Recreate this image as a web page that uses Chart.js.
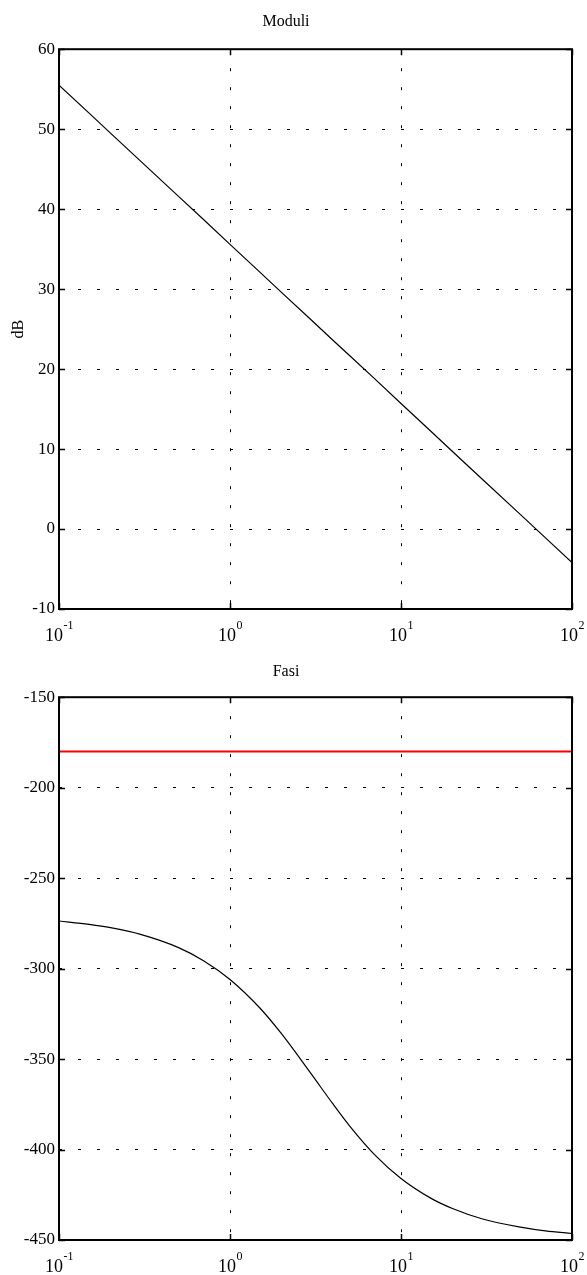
<!DOCTYPE html>
<html>
<head>
<meta charset="utf-8">
<script src="https://cdn.jsdelivr.net/npm/chart.js@4/dist/chart.umd.min.js"></script>
<style>
  body { margin: 0; background: #fff; width: 587px; height: 1275px; position: relative; overflow: hidden; }
  .box { position: absolute; left: 0; width: 587px; }
</style>
</head>
<body>
<div class="box" style="top:0;height:645px"><canvas id="modChart"></canvas></div>
<div class="box" style="top:645px;height:630px"><canvas id="phaseChart"></canvas></div>
<script>
let freqs = [0.1, 0.15, 0.2, 0.3, 0.5, 0.7, 1, 1.5, 2, 3, 4, 5, 7, 10, 15, 20, 30, 50, 70, 100];
let moduli = [55.5, 52.0, 49.5, 46.0, 41.6, 38.7, 35.6, 32.1, 29.6, 26.1, 23.6, 21.7, 18.8, 15.7, 12.2, 9.7, 6.2, 1.8, -1.1, -4.2];
let fasi = [-273.7, -275.6, -277.4, -281.1, -288.4, -295.6, -306.0, -321.9, -336.0, -358.5, -374.8, -386.9, -402.8, -416.0, -427.0, -432.6, -438.4, -442.9, -445.0, -446.4];

// red reference line
let refFreqs = [0.1, 100];
let refFase = [-180, -180];

let xTicks = [0.1, 1, 10, 100];
let fontFam = '"Liberation Serif", "Times New Roman", serif';

function toPoints(xs, ys){
  return xs.map(function(v, i){ return {x: v, y: ys[i]}; });
}

// box, inward ticks and 10^n labels like the matlab axes
let matlabAxes = {
  id: 'matlabAxes',
  afterDraw: function(chart){
    let ctx = chart.ctx;
    let a = chart.chartArea;
    let xs = chart.scales.x;
    let ys = chart.scales.y;
    ctx.save();
    ctx.strokeStyle = '#000';
    ctx.lineWidth = 1.5;
    ctx.beginPath();
    xs.ticks.forEach(function(t){
      let px = Math.round(xs.getPixelForValue(t.value)) + 0.5;
      ctx.moveTo(px, a.bottom); ctx.lineTo(px, a.bottom - 6);
      ctx.moveTo(px, a.top); ctx.lineTo(px, a.top + 6);
    });
    ys.ticks.forEach(function(t){
      let py = Math.round(ys.getPixelForValue(t.value)) + 0.5;
      ctx.moveTo(a.left, py); ctx.lineTo(a.left + 6, py);
      ctx.moveTo(a.right, py); ctx.lineTo(a.right - 6, py);
    });
    ctx.stroke();
    ctx.lineWidth = 2;
    ctx.strokeRect(a.left, a.top, a.right - a.left, a.bottom - a.top);

    ctx.fillStyle = '#000';
    ctx.textBaseline = 'alphabetic';
    ctx.textAlign = 'left';
    xs.ticks.forEach(function(t){
      let px = xs.getPixelForValue(t.value);
      let exp = String(Math.round(Math.log10(t.value)));
      ctx.font = '18px ' + fontFam;
      let w1 = ctx.measureText('10').width;
      ctx.font = '12px ' + fontFam;
      let w2 = ctx.measureText(exp).width;
      let left = px - (w1 + w2) / 2;
      let base = a.bottom + 32;
      ctx.font = '18px ' + fontFam;
      ctx.fillText('10', left, base);
      ctx.font = '12px ' + fontFam;
      ctx.fillText(exp, left + w1 + 0.5, base - 12);
    });
    ctx.restore();
  }
};

function makeOptions(title, titlePad, yMin, yMax, yStep, yLabel, xHeight){
  return {
    responsive: true,
    maintainAspectRatio: false,
    animation: false,
    layout: { padding: { left: 0, right: 15, top: 0, bottom: 0 } },
    plugins: {
      legend: { display: false },
      tooltip: { enabled: false },
      title: {
        display: true,
        text: title,
        color: '#000',
        font: { family: fontFam, size: 16, weight: 'normal' },
        padding: titlePad
      }
    },
    scales: {
      x: {
        type: 'logarithmic',
        min: 0.1,
        max: 100,
        afterBuildTicks: function(scale){
          scale.ticks = xTicks.map(function(v){ return {value: v}; });
        },
        afterFit: function(scale){ scale.height = xHeight; },
        ticks: { display: false },
        grid: { color: '#000', lineWidth: 1, drawTicks: false },
        border: { display: false, dash: [3, 16] }
      },
      y: {
        min: yMin,
        max: yMax,
        afterFit: function(scale){ scale.width = 59; },
        ticks: {
          stepSize: yStep,
          color: '#000',
          padding: 4,
          font: { family: fontFam, size: 17 }
        },
        title: {
          display: yLabel != '',
          text: yLabel,
          color: '#000',
          font: { family: fontFam, size: 16 },
          padding: { top: 9, bottom: 0 }
        },
        grid: { color: '#000', lineWidth: 1, drawTicks: false },
        border: { display: false, dash: [3, 16] }
      }
    }
  };
}

let modChart = new Chart(document.getElementById('modChart'), {
  type: 'line',
  data: {
    datasets: [{
      label: 'Moduli',
      data: toPoints(freqs, moduli),
      borderColor: '#000',
      borderWidth: 1.2,
      pointRadius: 0,
      tension: 0
    }]
  },
  options: makeOptions('Moduli', {top: 12, bottom: 18}, -10, 60, 10, 'dB', 36),
  plugins: [matlabAxes]
});

let phaseChart = new Chart(document.getElementById('phaseChart'), {
  type: 'line',
  data: {
    datasets: [{
      label: 'Fasi',
      data: toPoints(freqs, fasi),
      borderColor: '#000',
      borderWidth: 1.2,
      pointRadius: 0,
      cubicInterpolationMode: 'monotone'
    }, {
      label: '-180',
      data: toPoints(refFreqs, refFase),
      borderColor: '#ff0000',
      borderWidth: 2,
      pointRadius: 0,
      tension: 0
    }]
  },
  options: makeOptions('Fasi', {top: 17, bottom: 16}, -450, -150, 50, '', 35),
  plugins: [matlabAxes]
});
</script>
</body>
</html>
